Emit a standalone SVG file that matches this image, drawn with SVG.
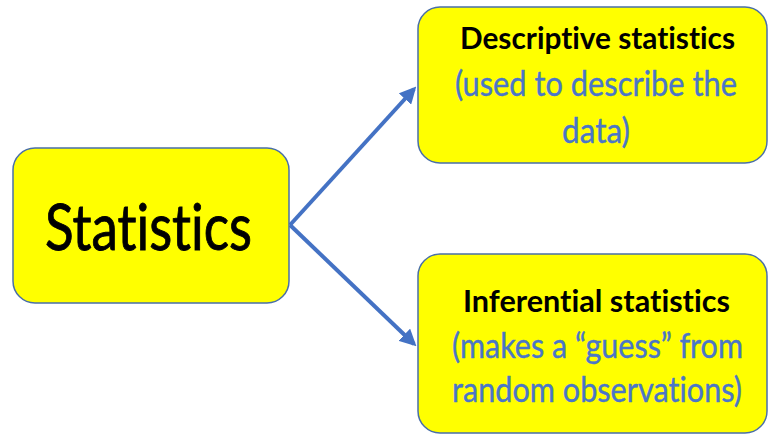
<svg xmlns="http://www.w3.org/2000/svg" width="769" height="435" viewBox="0 0 769 435">
  <style>
    text { font-family: Lato, "Open Sans", "Liberation Sans", sans-serif; text-anchor: middle; font-variant-ligatures: none; }
    .box { fill: #FFFF00; stroke: #4A6FA8; stroke-width: 1.5; }
    .title { fill: #000000; stroke: #000000; stroke-width: 0.9; }
    .head { font-weight: bold; font-size: 30px; fill: #000000; }
    .note { font-size: 34px; fill: #4A76C8; stroke: #4A76C8; stroke-width: 0.4; }
    .link { fill: none; stroke: #4472C4; stroke-width: 4; }
  </style>
  <defs>
    <marker id="arrow" viewBox="0 0 10 10" refX="8" refY="5" markerWidth="4.2" markerHeight="4.2" orient="auto" markerUnits="strokeWidth">
      <path d="M0,0 L10,5 L0,10 Z" fill="#4472C4"/>
    </marker>
  </defs>

  <g id="connectors">
    <line class="link" x1="290" y1="225" x2="414" y2="89" marker-end="url(#arrow)"/>
    <line class="link" x1="290" y1="225" x2="414" y2="344" marker-end="url(#arrow)"/>
  </g>

  <g id="statistics">
    <rect class="box" x="13" y="148" width="276" height="155" rx="22" ry="22"/>
    <text class="title" x="148.5" y="250" font-size="63" textLength="207" lengthAdjust="spacingAndGlyphs">Statistics</text>
  </g>

  <g id="descriptive">
    <rect class="box" x="418" y="7" width="349" height="156" rx="22" ry="22"/>
    <text class="head" x="597.5" y="49" textLength="275" lengthAdjust="spacingAndGlyphs">Descriptive statistics</text>
    <text class="note" x="596" y="96" textLength="282" lengthAdjust="spacingAndGlyphs">(used to describe the</text>
    <text class="note" x="596" y="143" textLength="68" lengthAdjust="spacingAndGlyphs">data)</text>
  </g>

  <g id="inferential">
    <rect class="box" x="418" y="254" width="349" height="179" rx="22" ry="22"/>
    <text class="head" x="596.5" y="312" textLength="267" lengthAdjust="spacingAndGlyphs">Inferential statistics</text>
    <text class="note" x="597.5" y="358" textLength="291" lengthAdjust="spacingAndGlyphs">(makes a “guess” from</text>
    <text class="note" x="597" y="402" textLength="290" lengthAdjust="spacingAndGlyphs">random observations)</text>
  </g>
</svg>
